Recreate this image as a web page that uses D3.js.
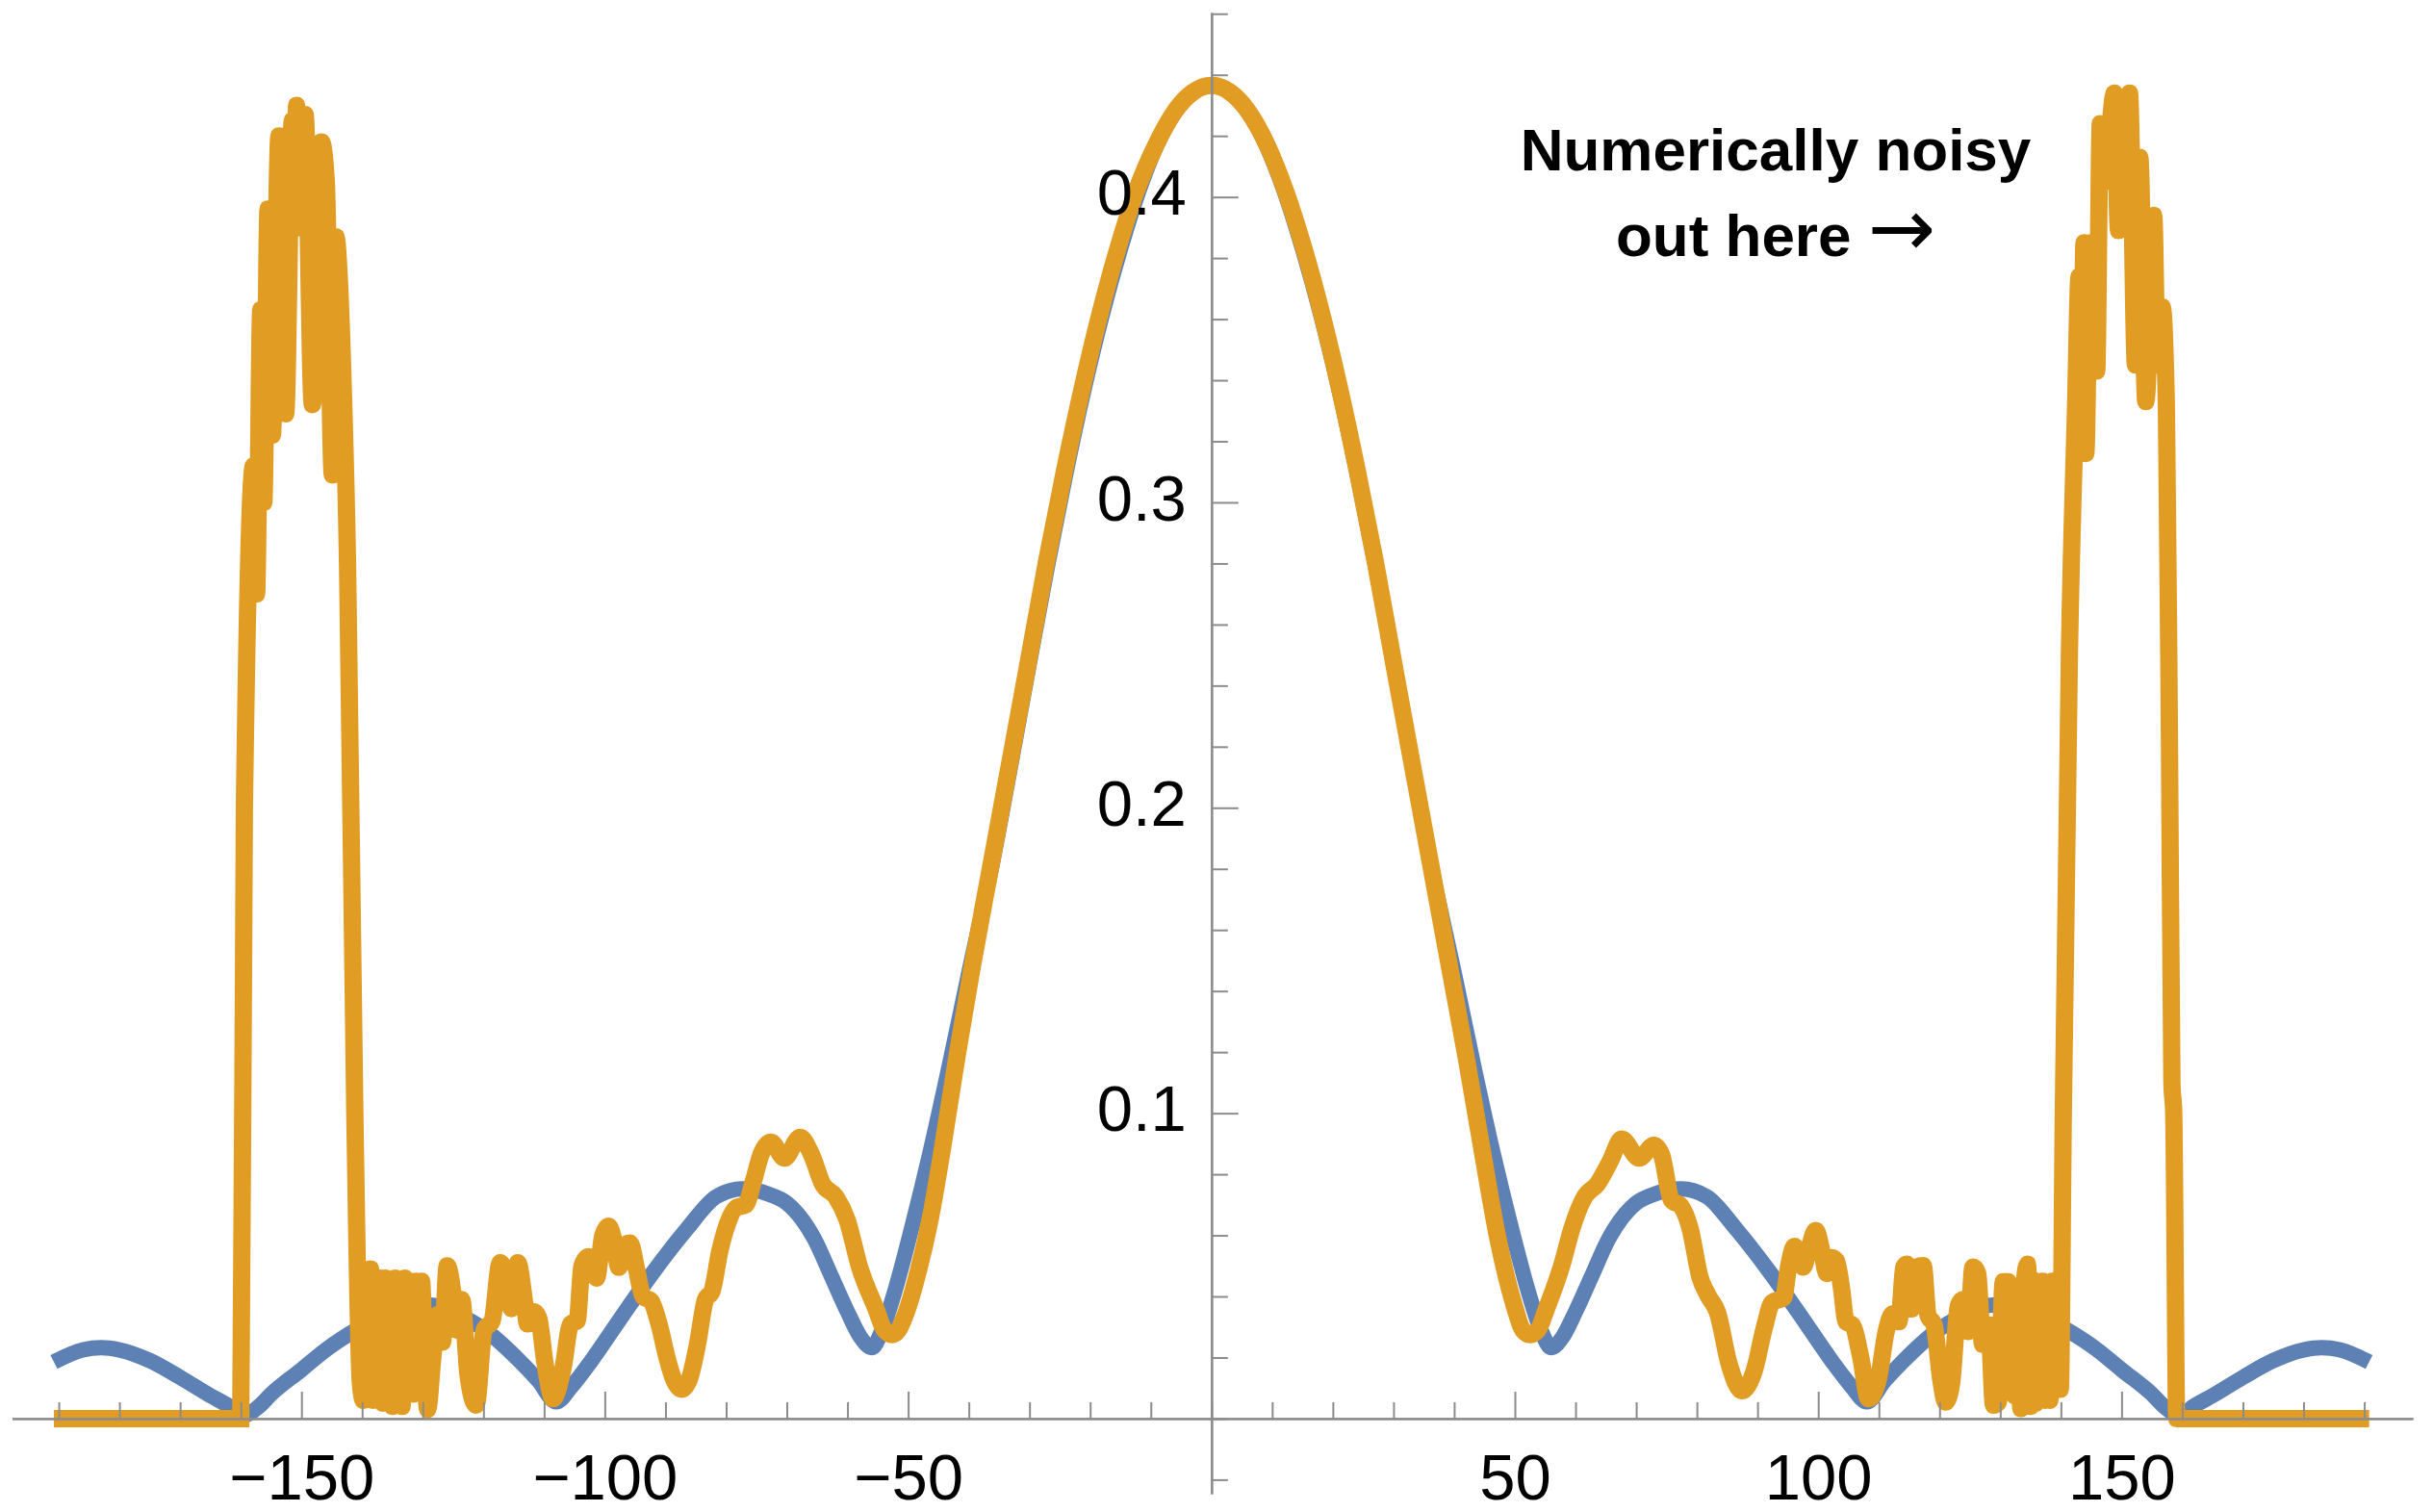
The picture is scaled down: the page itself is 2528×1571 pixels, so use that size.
<!DOCTYPE html>
<html>
<head>
<meta charset="utf-8">
<script src="https://cdn.jsdelivr.net/npm/d3@7"></script>
<style>
  html, body { margin: 0; padding: 0; background: #ffffff; }
  svg { display: block; }
</style>
</head>
<body>
<svg id="chart" width="2528" height="1571"></svg>
<script>
// ---------- data ----------
const xMajorTicks = [-150, -100, -50, 50, 100, 150];
const xMinorTicks = [-190,-180,-170,-160,-140,-130,-120,-110,-90,-80,-70,-60,-40,-30,-20,-10,0,
                     10,20,30,40,60,70,80,90,110,120,130,140,160,170,180,190];
const yMajorTicks = [0.1, 0.2, 0.3, 0.4];
const yMinorTicks = [-0.02,0,0.02,0.04,0.06,0.08,0.12,0.14,0.16,0.18,0.22,0.24,0.26,0.28,
                     0.32,0.34,0.36,0.38,0.42,0.44,0.46];
const annotationLine1 = "Numerically noisy";
const annotationLine2 = "out here ";
const annotationArrow = "\u2192";

// blue (smooth) series: [x, value]
const blueSeries = [
  [-190.8,0.0185],[-186,0.0225],[-183,0.0232],[-180,0.0225],[-175,0.019],[-170,0.0135],
  [-165,0.0075],[-162,0.0042],[-159.6,0.001],[-157,0.004],[-155,0.008],[-150,0.016],
  [-146,0.0225],[-140.5,0.0296],[-135.2,0.0348],[-131,0.0372],[-128.7,0.0372],[-124.6,0.0345],
  [-119.4,0.0285],[-114.1,0.019],[-111,0.0125],[-108,0.0055],[-105.5,0.0105],[-102.2,0.019],
  [-97,0.034],[-92,0.048],[-86.5,0.062],[-81.6,0.0727],[-77.4,0.0752],[-73,0.0735],
  [-70,0.0706],[-65.5,0.059],[-62.6,0.0464],[-60,0.035],[-57.8,0.0265],[-56,0.0232],
  [-54.3,0.029],[-52.3,0.041],[-49.6,0.061],[-46.4,0.087],[-43.2,0.1157],[-40.1,0.145],
  [-36,0.183],[-33,0.215],[-30,0.2475],[-27,0.2795],[-24,0.3095],[-21,0.337],[-18,0.3615],
  [-15,0.383],[-12,0.4018],[-9,0.417],[-6,0.4278],[-3,0.4343],[0,0.4366],
  [3,0.4343],[6,0.4278],[9,0.417],[12,0.4018],[15,0.383],[18,0.3615],[21,0.337],[24,0.3095],
  [27,0.2795],[30,0.2475],[33,0.215],[36,0.183],[40.1,0.145],[43.2,0.1157],[46.4,0.087],
  [49.6,0.061],[52.3,0.041],[54.3,0.029],[56,0.0232],[57.8,0.0265],[60,0.035],[62.6,0.0464],
  [65.5,0.059],[70,0.0706],[73,0.0735],[77.4,0.0752],[81.6,0.0727],[86.5,0.062],[92,0.048],
  [97,0.034],[102.2,0.019],[105.5,0.0105],[108,0.0055],[111,0.0125],[114.1,0.019],
  [119.4,0.0285],[124.6,0.0345],[128.7,0.0372],[131,0.0372],[135.2,0.0348],[140.5,0.0296],
  [146,0.0225],[150,0.016],[155,0.008],[157,0.004],[159.6,0.001],[162,0.0042],[165,0.0075],
  [170,0.0135],[175,0.019],[180,0.0225],[183,0.0232],[186,0.0225],[190.8,0.0185]
];

// orange (noisy) series: [x, value]
const orangeSeries = [
  [-190.8,0],[-160.0,0],
  // left noisy peak
  [-159.4,0.20],[-157.9,0.312],[-157.4,0.27],[-156.7,0.363],[-156.2,0.30],[-155.5,0.396],
  [-154.8,0.322],[-153.7,0.420],[-152.6,0.329],[-151.5,0.425],[-151.1,0.39],[-150.8,0.430],
  [-150.2,0.39],[-149.4,0.427],[-148.2,0.332],[-146.7,0.418],[-145.9,0.405],[-144.9,0.309],
  [-144.3,0.387],[-143.8,0.375],[-143.3,0.35],[-142.4,0.28],[-141.2,0.10],[-140.3,0.012],
  // noisy low region
  [-139.8,0.006],[-139.4,0.047],[-139.0,0.008],[-138.6,0.049],[-138.2,0.006],[-137.8,0.045],
  [-137.4,0.007],[-137.0,0.046],[-136.6,0.005],[-136.2,0.046],[-135.8,0.006],[-135.4,0.044],
  [-135.0,0.004],[-134.6,0.046],[-134.2,0.005],[-133.8,0.041],[-133.4,0.004],[-133.0,0.046],
  [-132.6,0.020],[-132.1,0.045],[-131.6,0.008],[-131.1,0.045],[-130.6,0.012],[-130.2,0.045],
  [-129.8,0.025],[-129.2,0.003],[-128.35,0.020],[-127.56,0.034],
  [-126.76,0.025],[-125.97,0.050],[-124.91,0.039],[-124.38,0.029],[-123.59,0.039],
  [-122.53,0.014],[-121.21,0.0044],[-119.89,0.029],[-118.57,0.032],[-117.24,0.051],
  [-116.19,0.046],[-115.39,0.036],[-114.34,0.051],[-113.28,0.039],[-112.75,0.031],
  [-111.69,0.035],[-110.90,0.033],[-109.84,0.018],[-108.52,0.0065],[-106.93,0.016],
  [-105.61,0.031],[-104.55,0.032],[-103.76,0.050],[-102.70,0.053],[-101.38,0.046],
  [-100.32,0.060],[-99.37,0.063],[-98.47,0.058],[-97.68,0.0495],[-96.62,0.057],
  [-95.83,0.0575],[-94.77,0.049],[-93.71,0.040],[-92.39,0.0385],[-91.07,0.031],
  [-89.75,0.020],[-88.69,0.013],[-87.37,0.0096],[-86.05,0.013],[-84.72,0.0243],
  [-83.40,0.039],[-82.34,0.0417],[-81.02,0.055],[-79.70,0.0642],[-78.38,0.069],
  [-76.79,0.070],[-75.47,0.078],[-74.15,0.087],[-72.6,0.0905],[-70.4,0.0853],[-67.8,0.0921],
  [-65.9,0.0863],[-64.1,0.0768],[-61.9,0.0726],[-60.1,0.0653],[-58.0,0.0496],[-55.3,0.0359],
  [-53.9,0.029],[-52.6,0.0275],[-51.6,0.029],[-50.5,0.0338],[-48.3,0.0485],[-46.3,0.066],
  [-44.3,0.089],[-42,0.118],[-39.5,0.1472],[-36.2,0.1828],[-33.2,0.2152],[-30.5,0.2444],
  [-27.2,0.2805],[-24.2,0.3106],[-21.2,0.3383],[-18.2,0.3631],[-15.2,0.3847],[-12.5,0.4014],
  [-9,0.4177],[-6,0.4282],[-3,0.4344],[0,0.4365],
  // main lobe right flank
  [3,0.4344],[6,0.4282],[9,0.4177],[12.3,0.4014],[15,0.3847],[18,0.3631],[21,0.3383],
  [24,0.3106],[27,0.2805],[30.3,0.2444],[33,0.2152],[36,0.1828],[39.3,0.1472],[42,0.118],
  [44.6,0.088],[47.2,0.059],[49.9,0.037],[51.3,0.029],[52.5,0.0275],[53.8,0.029],[55.2,0.0359],
  [57.8,0.0506],[59.4,0.0622],[61.5,0.0726],[63.6,0.0768],[65.7,0.0842],[67.6,0.0915],
  [70.5,0.0853],[72.9,0.0895],[74.2,0.0863],[75.8,0.0716],[77.4,0.0695],[78.9,0.0621],
  [80.5,0.0464],[81.9,0.0401],[83.4,0.0348],[85.3,0.018],[87.4,0.0091],[89.5,0.016],
  [91.1,0.0296],[92.4,0.038],[94.3,0.0396],[95.1,0.0496],[96.1,0.0564],[97.5,0.0496],
  [98.5,0.0559],[99.6,0.0616],[100.6,0.0548],[101.4,0.0475],[102.2,0.0527],[103.0,0.0517],
  [103.8,0.0433],[104.6,0.0317],[105.6,0.0307],[107.0,0.0202],[108.3,0.0065],[109.9,0.0128],
  [111.2,0.0285],[112.3,0.0343],[113.3,0.0317],[114.1,0.0496],[114.6,0.0506],[115.4,0.0359],
  [116.2,0.0496],[117.3,0.0501],[118.1,0.0338],[119.1,0.0307],[120.2,0.0128],[121.0,0.0054],
  [122.0,0.0118],[123.1,0.037],[123.9,0.039],[124.7,0.0285],[125.5,0.0496],[126.3,0.0475],
  [127.1,0.0243],[128.1,0.0307],[128.9,0.0044],[129.7,0.0054],[130.5,0.0448],[131.3,0.0448],
  [131.8,0.0222],[132.4,0.0075],[132.9,0.0422],[133.4,0.0033],[134.0,0.045],[134.5,0.0506],
  [135.0,0.004],[135.4,0.0454],[135.8,0.005],[136.2,0.044],[136.6,0.0075],[137.0,0.045],
  [137.4,0.006],[137.8,0.0433],[138.2,0.006],[138.6,0.045],[139.0,0.0096],[139.4,0.0443],
  [139.9,0.0096],
  // right noisy peak
  [140.4,0.10],[141.4,0.25],[142.4,0.33],[143.0,0.374],[143.4,0.33],[143.8,0.385],
  [144.1,0.316],[144.8,0.385],[145.9,0.343],[146.5,0.424],[147.2,0.405],[148.8,0.434],
  [149.5,0.389],[150.2,0.40],[151.3,0.434],[152.3,0.345],[153.0,0.413],[154.0,0.333],
  [155.3,0.394],[155.9,0.345],[156.7,0.364],[157.4,0.33],[157.9,0.22],[158.3,0.11],
  [158.6,0.10],[159.1,0.0],[190.8,0]
];

// ---------- layout ----------
const svg = d3.select("#chart");
const x = d3.scaleLinear().domain([-197.7, 198.0]).range([12.5, 2507]);
const y = d3.scaleLinear().domain([-0.0246, 0.4604]).range([1552, 13]);

const axisColor = "#8c8c8c";
const fontFamily = '"Liberation Sans", Arial, Helvetica, sans-serif';

const line = d3.line()
  .x(d => x(d[0]))
  .y(d => y(d[1]))
  .curve(d3.curveMonotoneX);

svg.append("path")
  .datum(blueSeries)
  .attr("d", line)
  .attr("fill", "none")
  .attr("stroke", "#5E81B5")
  .attr("stroke-width", 16)
  .attr("stroke-linejoin", "round");

svg.append("path")
  .datum(orangeSeries)
  .attr("d", line)
  .attr("fill", "none")
  .attr("stroke", "#E19C24")
  .attr("stroke-width", 18)
  .attr("stroke-linejoin", "miter")
  .attr("stroke-miterlimit", 2);

// x axis
const gxMinor = svg.append("g").attr("transform", `translate(0,${y(0)})`)
  .call(d3.axisBottom(x).tickValues(xMinorTicks).tickSizeInner(-17).tickSizeOuter(0).tickFormat(""));
const gxMajor = svg.append("g").attr("transform", `translate(0,${y(0)})`)
  .call(d3.axisBottom(x).tickValues(xMajorTicks).tickSizeInner(-28).tickSizeOuter(0)
        .tickPadding(36).tickFormat(d3.format("d")));

// y axis
const gyMinor = svg.append("g").attr("transform", `translate(${x(0)},0)`)
  .call(d3.axisLeft(y).tickValues(yMinorTicks).tickSizeInner(-17).tickSizeOuter(0).tickFormat(""));
const gyMajor = svg.append("g").attr("transform", `translate(${x(0)},0)`)
  .call(d3.axisLeft(y).tickValues(yMajorTicks).tickSizeInner(-28).tickSizeOuter(0)
        .tickPadding(26).tickFormat(d3.format(".1f")));

[gxMinor, gxMajor, gyMinor, gyMajor].forEach(g => {
  g.select(".domain").attr("stroke", axisColor).attr("stroke-width", 2.2);
  g.selectAll(".tick line").attr("stroke", axisColor).attr("stroke-width", 2);
  g.selectAll(".tick text")
    .attr("fill", "#000")
    .attr("font-size", 67)
    .attr("font-family", fontFamily);
});
gyMajor.selectAll(".tick text").attr("dy", "0.27em");

// annotation
const ann = svg.append("text")
  .attr("font-family", fontFamily)
  .attr("font-weight", "bold")
  .attr("font-size", 62)
  .attr("text-anchor", "middle")
  .attr("fill", "#000");
ann.append("tspan").attr("x", 1845).attr("y", 177).text(annotationLine1);
const ann2 = ann.append("tspan").attr("x", 1845).attr("y", 266);
ann2.append("tspan").text(annotationLine2);
ann2.append("tspan")
  .attr("font-family", '"DejaVu Sans", sans-serif')
  .attr("font-weight", "normal")
  .attr("font-size", 84)
  .text(annotationArrow);
</script>
</body>
</html>
